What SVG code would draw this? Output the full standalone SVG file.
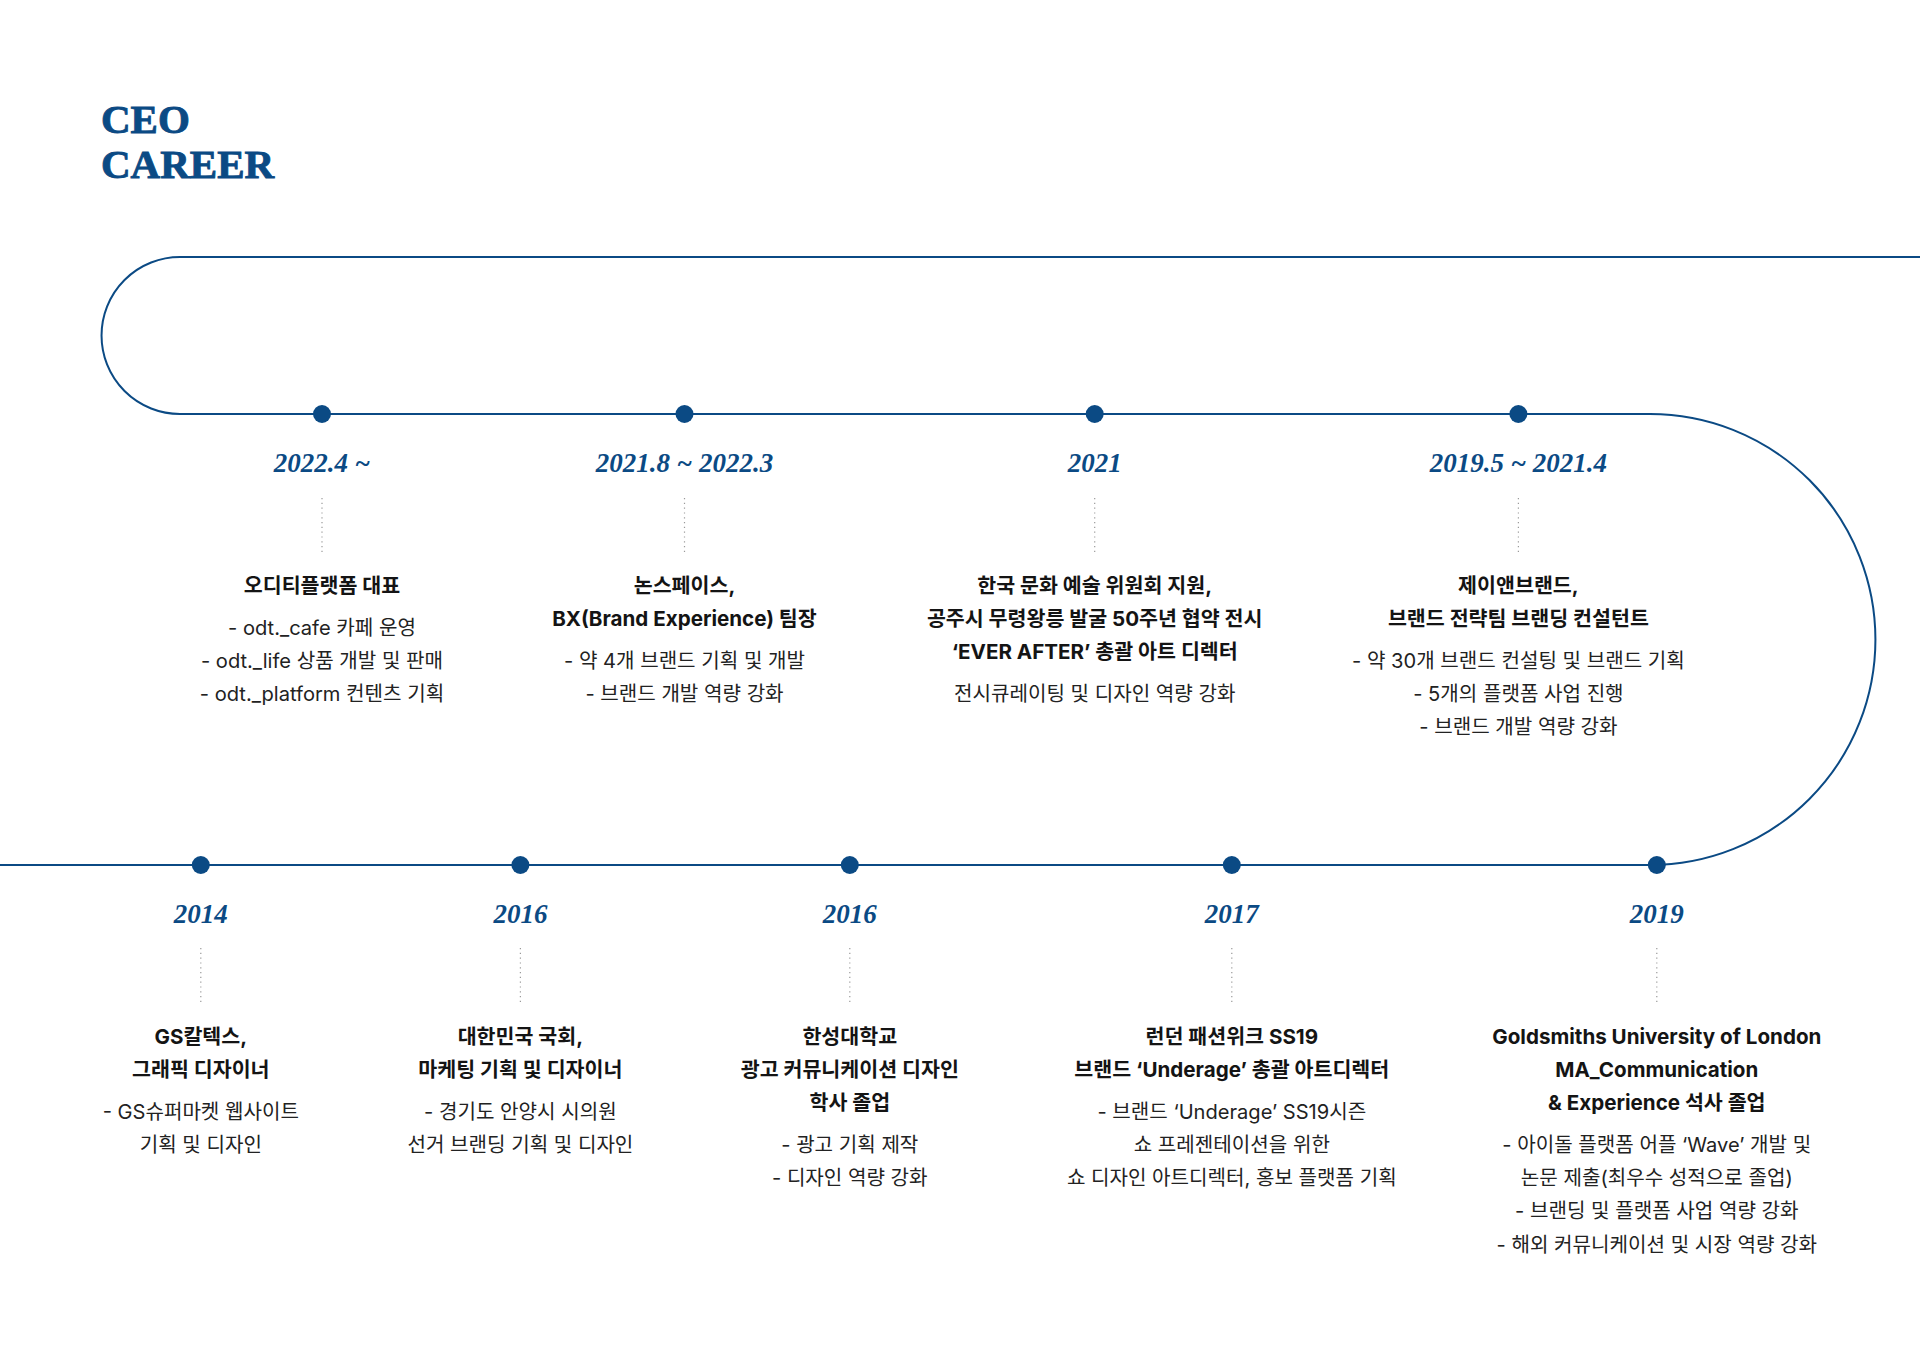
<svg xmlns="http://www.w3.org/2000/svg" width="1920" height="1357" viewBox="0 0 1920 1357">
<style>
.bg{fill:#ffffff}
.track{fill:none;stroke:#0b4a84;stroke-width:2}
.dot{fill:#0b4a84}
.lead{stroke:#9a9a9a;stroke-width:1.2;stroke-dasharray:1.2 3.6;fill:none}
.head{font-family:"Liberation Serif","DejaVu Serif",serif;font-weight:700;font-size:41px;fill:#0b4a84;stroke:#0b4a84;stroke-width:0.9}
.date{font-family:"Liberation Serif","DejaVu Serif",serif;font-style:italic;font-weight:700;font-size:27px;fill:#0b4a84;text-anchor:middle}
.title{font-family:Inter,"Noto Sans CJK KR",sans-serif;font-weight:700;font-size:20.6px;fill:#141414;text-anchor:middle}
.desc{font-family:Inter,"Noto Sans CJK KR",sans-serif;font-weight:400;font-size:20.1px;fill:#222222;text-anchor:middle}
</style>
<rect class="bg" x="0" y="0" width="1920" height="1357"/>
<g id="heading">
<text class="head" x="101" y="133">CEO</text>
<text class="head" x="101" y="178">CAREER</text>
</g>
<g id="connectors">
<path class="track" d="M1920,257 H180 A78.5,78.5 0 0 0 180,414 H1650 A225.5,225.5 0 0 1 1650,865 H0"/>
</g>
<g id="n2022">
<circle class="dot" cx="322" cy="414" r="9"/>
<text class="date" x="322" y="471.5">2022.4 ~</text>
<line class="lead" x1="322" y1="498" x2="322" y2="553"/>
<text class="title" x="322" y="593">오디티플랫폼 대표</text>
<text class="desc" x="322" y="634.5"><tspan x="322">- odt._cafe 카페 운영</tspan><tspan x="322" dy="33.2">- odt._life 상품 개발 및 판매</tspan><tspan x="322" dy="33.2">- odt._platform 컨텐츠 기획</tspan></text>
</g>
<g id="n2021-8">
<circle class="dot" cx="684.5" cy="414" r="9"/>
<text class="date" x="684.5" y="471.5">2021.8 ~ 2022.3</text>
<line class="lead" x1="684.5" y1="498" x2="684.5" y2="553"/>
<text class="title" x="684.5" y="593"><tspan x="684.5">논스페이스,</tspan><tspan x="684.5" dy="33.2">BX(Brand Experience) 팀장</tspan></text>
<text class="desc" x="684.5" y="667.7"><tspan x="684.5">- 약 4개 브랜드 기획 및 개발</tspan><tspan x="684.5" dy="33.2">- 브랜드 개발 역량 강화</tspan></text>
</g>
<g id="n2021">
<circle class="dot" cx="1094.7" cy="414" r="9"/>
<text class="date" x="1094.7" y="471.5">2021</text>
<line class="lead" x1="1094.7" y1="498" x2="1094.7" y2="553"/>
<text class="title" x="1094.7" y="593"><tspan x="1094.7">한국 문화 예술 위원회 지원,</tspan><tspan x="1094.7" dy="33.2">공주시 무령왕릉 발굴 50주년 협약 전시</tspan><tspan x="1094.7" dy="33.2">‘EVER AFTER’ 총괄 아트 디렉터</tspan></text>
<text class="desc" x="1094.7" y="700.9">전시큐레이팅 및 디자인 역량 강화</text>
</g>
<g id="n2019-5">
<circle class="dot" cx="1518.4" cy="414" r="9"/>
<text class="date" x="1518.4" y="471.5">2019.5 ~ 2021.4</text>
<line class="lead" x1="1518.4" y1="498" x2="1518.4" y2="553"/>
<text class="title" x="1518.4" y="593"><tspan x="1518.4">제이앤브랜드,</tspan><tspan x="1518.4" dy="33.2">브랜드 전략팀 브랜딩 컨설턴트</tspan></text>
<text class="desc" x="1518.4" y="667.7"><tspan x="1518.4">- 약 30개 브랜드 컨설팅 및 브랜드 기획</tspan><tspan x="1518.4" dy="33.2">- 5개의 플랫폼 사업 진행</tspan><tspan x="1518.4" dy="33.2">- 브랜드 개발 역량 강화</tspan></text>
</g>
<g id="n2014">
<circle class="dot" cx="200.8" cy="865" r="9"/>
<text class="date" x="200.8" y="922.5">2014</text>
<line class="lead" x1="200.8" y1="948" x2="200.8" y2="1003"/>
<text class="title" x="200.8" y="1044"><tspan x="200.8">GS칼텍스,</tspan><tspan x="200.8" dy="33.2">그래픽 디자이너</tspan></text>
<text class="desc" x="200.8" y="1118.7"><tspan x="200.8">- GS슈퍼마켓 웹사이트</tspan><tspan x="200.8" dy="33.2">기획 및 디자인</tspan></text>
</g>
<g id="n2016a">
<circle class="dot" cx="520.4" cy="865" r="9"/>
<text class="date" x="520.4" y="922.5">2016</text>
<line class="lead" x1="520.4" y1="948" x2="520.4" y2="1003"/>
<text class="title" x="520.4" y="1044"><tspan x="520.4">대한민국 국회,</tspan><tspan x="520.4" dy="33.2">마케팅 기획 및 디자이너</tspan></text>
<text class="desc" x="520.4" y="1118.7"><tspan x="520.4">- 경기도 안양시 시의원</tspan><tspan x="520.4" dy="33.2">선거 브랜딩 기획 및 디자인</tspan></text>
</g>
<g id="n2016b">
<circle class="dot" cx="849.8" cy="865" r="9"/>
<text class="date" x="849.8" y="922.5">2016</text>
<line class="lead" x1="849.8" y1="948" x2="849.8" y2="1003"/>
<text class="title" x="849.8" y="1044"><tspan x="849.8">한성대학교</tspan><tspan x="849.8" dy="33.2">광고 커뮤니케이션 디자인</tspan><tspan x="849.8" dy="33.2">학사 졸업</tspan></text>
<text class="desc" x="849.8" y="1151.9"><tspan x="849.8">- 광고 기획 제작</tspan><tspan x="849.8" dy="33.2">- 디자인 역량 강화</tspan></text>
</g>
<g id="n2017">
<circle class="dot" cx="1231.8" cy="865" r="9"/>
<text class="date" x="1231.8" y="922.5">2017</text>
<line class="lead" x1="1231.8" y1="948" x2="1231.8" y2="1003"/>
<text class="title" x="1231.8" y="1044"><tspan x="1231.8">런던 패션위크 SS19</tspan><tspan x="1231.8" dy="33.2">브랜드 ‘Underage’ 총괄 아트디렉터</tspan></text>
<text class="desc" x="1231.8" y="1118.7"><tspan x="1231.8">- 브랜드 ‘Underage’ SS19시즌</tspan><tspan x="1231.8" dy="33.2">쇼 프레젠테이션을 위한</tspan><tspan x="1231.8" dy="33.2">쇼 디자인 아트디렉터, 홍보 플랫폼 기획</tspan></text>
</g>
<g id="n2019">
<circle class="dot" cx="1656.8" cy="865" r="9"/>
<text class="date" x="1656.8" y="922.5">2019</text>
<line class="lead" x1="1656.8" y1="948" x2="1656.8" y2="1003"/>
<text class="title" x="1656.8" y="1044"><tspan x="1656.8">Goldsmiths University of London</tspan><tspan x="1656.8" dy="33.2">MA_Communication</tspan><tspan x="1656.8" dy="33.2">&amp; Experience 석사 졸업</tspan></text>
<text class="desc" x="1656.8" y="1151.9"><tspan x="1656.8">- 아이돌 플랫폼 어플 ‘Wave’ 개발 및</tspan><tspan x="1656.8" dy="33.2">논문 제출(최우수 성적으로 졸업)</tspan><tspan x="1656.8" dy="33.2">- 브랜딩 및 플랫폼 사업 역량 강화</tspan><tspan x="1656.8" dy="33.2">- 해외 커뮤니케이션 및 시장 역량 강화</tspan></text>
</g>
</svg>
